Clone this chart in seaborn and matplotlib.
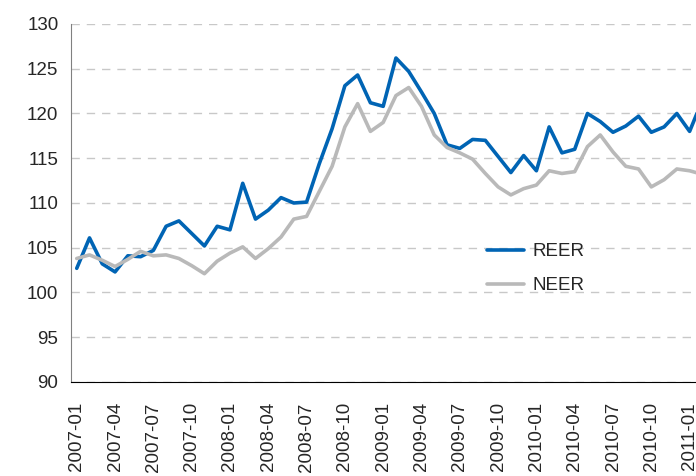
import matplotlib
matplotlib.use('Agg')
import matplotlib.pyplot as plt
from matplotlib.ticker import FixedLocator
import numpy as np
import pandas as pd
import seaborn as sns

# monthly index values, 2007-01 .. 2011-02
months = pd.date_range('2007-01-01', periods=50, freq='MS').strftime('%Y-%m').tolist()

reer = [102.7, 106.1, 103.2, 102.3, 104.1, 104.0, 104.7, 107.4, 108.0, 106.6,
        105.2, 107.4, 107.0, 112.2, 108.2, 109.2, 110.6, 110.0, 110.1, 114.4,
        118.3, 123.1, 124.3, 121.2, 120.8, 126.2, 124.7, 122.4, 120.0, 116.5,
        116.1, 117.1, 117.0, 115.2, 113.4, 115.3, 113.6, 118.5, 115.6, 116.0,
        120.0, 119.1, 117.9, 118.6, 119.7, 117.9, 118.5, 120.0, 118.0, 121.5]

neer = [103.8, 104.2, 103.6, 102.9, 103.7, 104.6, 104.1, 104.2, 103.8, 103.0,
        102.1, 103.5, 104.4, 105.1, 103.8, 104.9, 106.2, 108.2, 108.5, 111.3,
        114.1, 118.5, 121.1, 118.0, 119.0, 122.0, 122.9, 120.8, 117.6, 116.2,
        115.6, 114.9, 113.3, 111.8, 110.9, 111.6, 112.0, 113.6, 113.3, 113.5,
        116.3, 117.6, 115.7, 114.1, 113.8, 111.8, 112.6, 113.8, 113.6, 113.2]

series_names = ['REER', 'NEER']
series_colors = {'REER': '#0064B4', 'NEER': '#B9B9B9'}

df = pd.DataFrame({'pos': np.arange(len(months)), 'REER': reer, 'NEER': neer})
df_long = df.melt(id_vars='pos', value_vars=series_names, var_name='series', value_name='value')

sns.set_style('white')
plt.rcParams['font.family'] = ['Liberation Sans', 'DejaVu Sans']

fig = plt.figure(figsize=(6.96, 4.76), dpi=100)
ax = fig.add_axes([0.102, 0.1975, 0.898, 0.7521])

sns.lineplot(data=df_long, x='pos', y='value', hue='series', hue_order=series_names,
             palette=series_colors, linewidth=2.6, ax=ax, legend=False)

ax.set_xlim(-0.45, 48.5)
ax.set_ylim(90, 130)
ax.set_yticks(np.arange(90, 131, 5))
ax.yaxis.grid(True, color='#C8C8C8', linestyle=(0, (6, 5)), linewidth=1)
ax.set_axisbelow(True)

# labels every quarter, small ticks between months
tick_pos = list(range(0, len(months), 3))
ax.set_xticks(tick_pos)
ax.set_xticklabels([months[i] for i in tick_pos], rotation=90, fontsize=13.5)
ax.xaxis.set_minor_locator(FixedLocator(np.arange(-0.5, len(months), 1)))
ax.tick_params(axis='x', which='major', length=0, pad=14.5)
ax.tick_params(axis='x', which='minor', length=5, width=1, color='black', direction='out')
ax.tick_params(axis='y', which='major', length=10, width=1, direction='inout',
               color='#333333', labelsize=13.5, pad=4)

for side in ['top', 'right']:
    ax.spines[side].set_visible(False)
ax.spines['left'].set_color('#808080')
ax.spines['bottom'].set_color('black')
ax.set_xlabel('')
ax.set_ylabel('')

handles = [plt.Line2D([], [], color=series_colors[s], linewidth=2.6) for s in series_names]
fig.legend(handles, series_names, loc='upper left', bbox_to_anchor=(0.675, 0.525),
           frameon=False, fontsize=13.5, handlelength=2.0, labelspacing=0.9,
           handletextpad=0.45)

plt.savefig('out.png', dpi=100)
